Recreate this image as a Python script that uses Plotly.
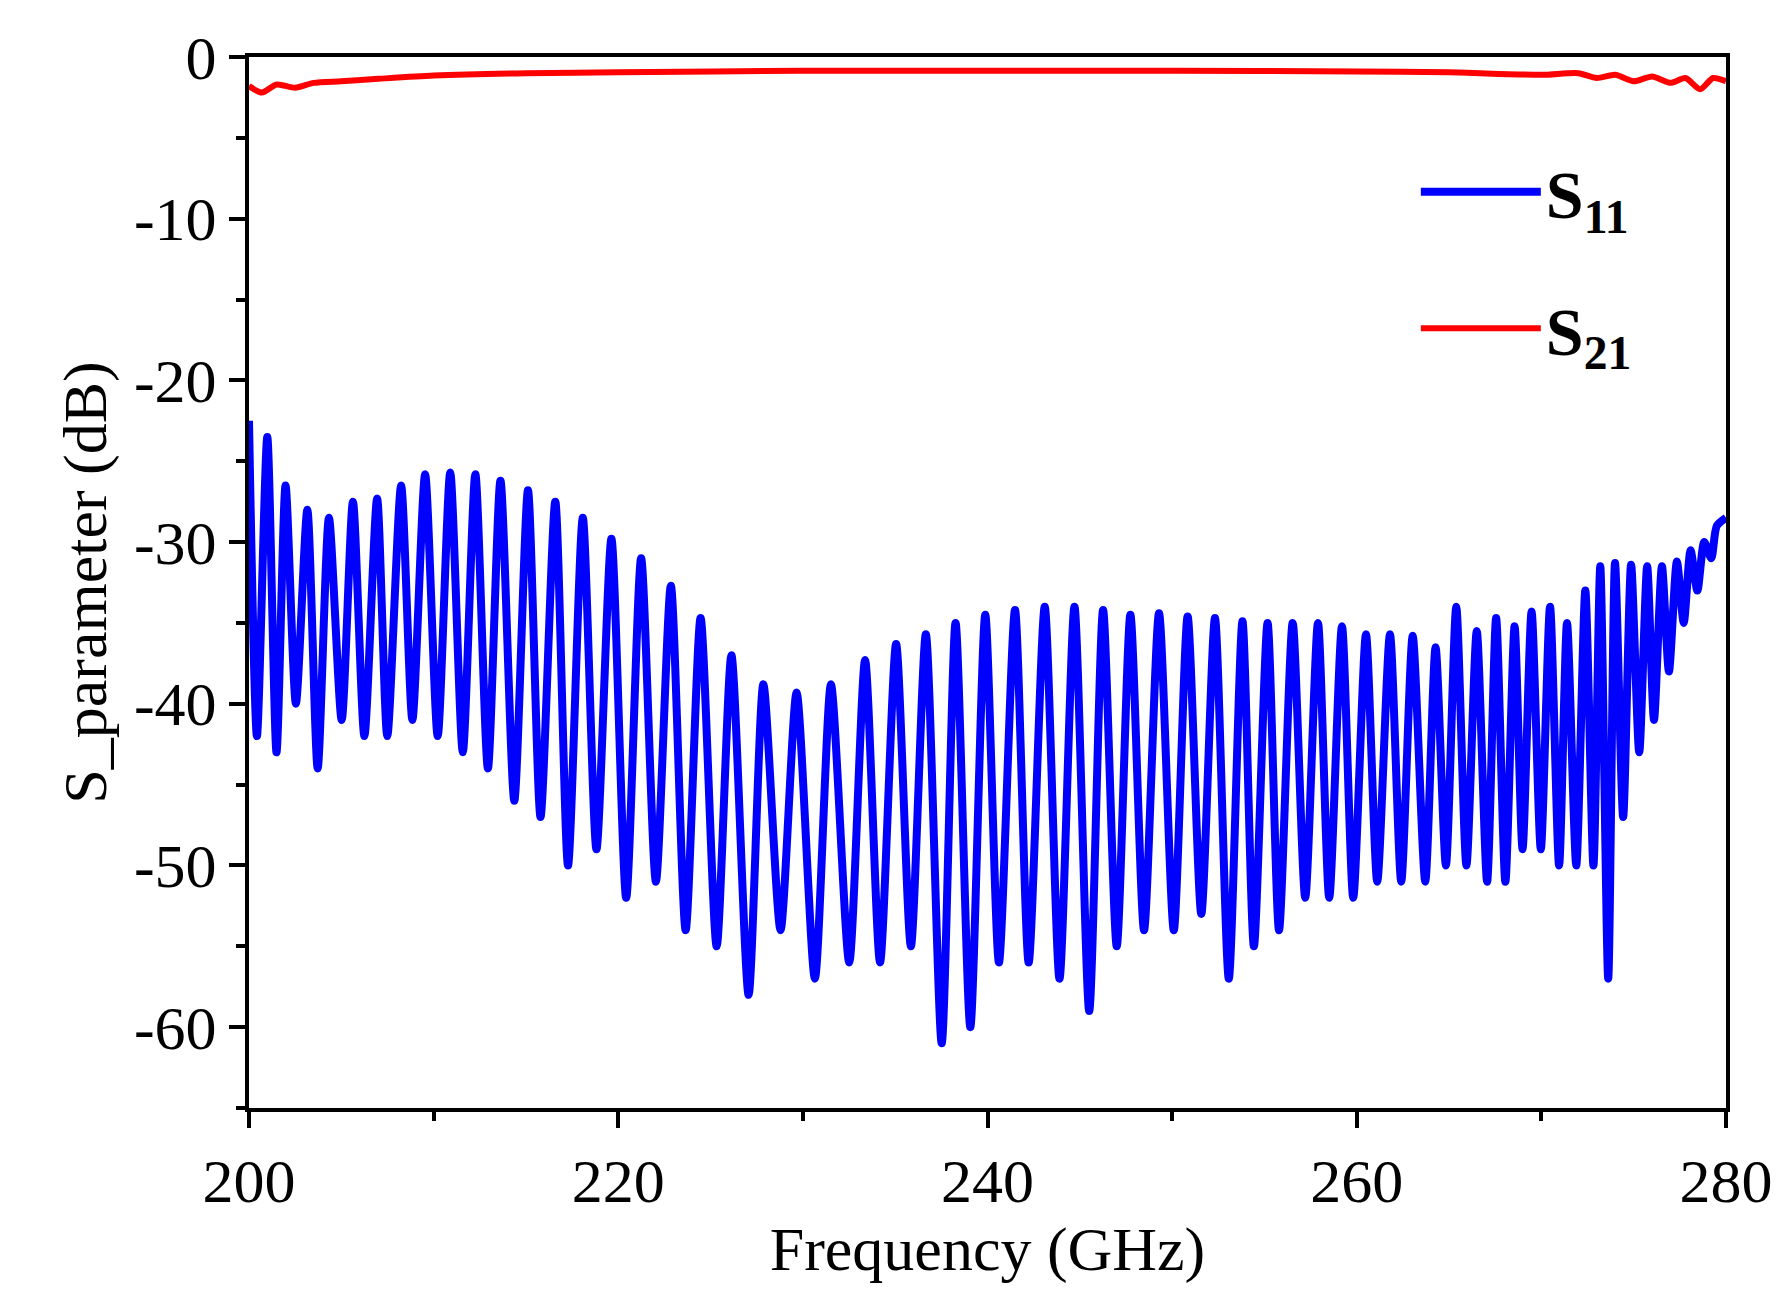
import plotly.graph_objects as go

# S11 local maxima (GHz, dB)
peak_f = [200.0, 200.99, 201.98, 203.16, 204.33, 205.63, 206.94, 208.24, 209.54, 210.90,
          212.26, 213.62, 215.11, 216.59, 218.08, 219.63, 221.24, 222.85, 224.46, 226.13,
          227.86, 229.66, 231.52, 233.37, 235.05, 236.66, 238.27, 239.88, 241.49, 243.10,
          244.71, 246.26, 247.74, 249.29, 250.84, 252.32, 253.81, 255.17, 256.53, 257.90,
          259.20, 260.50, 261.80, 263.03, 264.27, 265.39, 266.50, 267.55, 268.55, 269.47,
          270.47, 271.39, 272.38, 273.19, 273.99, 274.86, 275.73, 276.53, 277.34, 278.08,
          278.82, 279.50, 280.0]
peak_db = [-22.5, -23.5, -26.5, -28, -28.5, -27.5, -27.3, -26.5, -25.8, -25.7,
           -25.8, -26.2, -26.8, -27.5, -28.5, -29.8, -31, -32.7, -34.7, -37,
           -38.8, -39.3, -38.8, -37.3, -36.3, -35.7, -35, -34.5, -34.2, -34,
           -34, -34.2, -34.5, -34.4, -34.6, -34.7, -34.9, -35, -35, -35,
           -35.2, -35.7, -35.7, -35.8, -36.5, -34, -35.5, -34.7, -35.2, -34.3,
           -34, -35, -33, -31.5, -31.3, -31.4, -31.5, -31.5, -31.2, -30.5,
           -30, -29, -28.5]

# S11 nulls (GHz, dB)
null_f = [200.43, 201.49, 202.54, 203.72, 205.02, 206.25, 207.49, 208.85, 210.22, 211.58,
          212.94, 214.37, 215.79, 217.28, 218.82, 220.43, 222.04, 223.65, 225.33, 227.06,
          228.79, 230.65, 232.51, 234.18, 235.85, 237.52, 239.07, 240.62, 242.23, 243.90,
          245.51, 247.00, 248.48, 250.09, 251.58, 253.07, 254.43, 255.79, 257.21, 258.51,
          259.81, 261.11, 262.41, 263.71, 264.83, 265.94, 267.06, 268.05, 268.98, 269.97,
          270.96, 271.89, 272.82, 273.62, 274.43, 275.30, 276.10, 276.91, 277.71, 278.45,
          279.2]
null_db = [-42, -43, -40, -44, -41, -42, -42, -41, -42, -43,
           -44, -46, -47, -50, -49, -52, -51, -54, -55, -58,
           -54, -57, -56, -56, -55, -61, -60, -56, -56, -57,
           -59, -55, -54, -54, -53, -57, -55, -54, -52, -52,
           -52, -51, -51, -51, -50, -50, -51, -51, -49, -49,
           -50, -50, -50, -57, -47, -43, -41, -38, -35, -33,
           -31]

s21_f = [200, 200.7, 201.5, 202.5, 203.5, 205, 207, 210, 215, 220, 230, 240, 250, 260,
         265, 270, 272, 273, 274, 275, 276, 277, 277.8, 278.6, 279.3, 280]
s21_db = [-1.8, -2.2, -1.7, -1.9, -1.6, -1.5, -1.35, -1.15, -1.0, -0.95, -0.85, -0.85, -0.85, -0.9,
          -0.95, -1.1, -1.0, -1.3, -1.1, -1.5, -1.2, -1.6, -1.3, -2.0, -1.3, -1.5]

y_ticks = [0, -10, -20, -30, -40, -50, -60]
y_labels = ["0", "-10", "-20", "-30", "-40", "-50", "-60"]

s11 = sorted(zip(peak_f + null_f, peak_db + null_db))
s11_f = [p[0] for p in s11]
s11_db = [p[1] for p in s11]

font = "Liberation Serif, Times New Roman, serif"

fig = go.Figure()
fig.add_trace(go.Scatter(x=s11_f, y=s11_db, mode="lines", name="<b>S<sub>11</sub></b>",
                         legendgroup="a",
                         line=dict(color="#0000ff", width=8, shape="spline", smoothing=0.7)))
fig.add_trace(go.Scatter(x=s21_f, y=s21_db, mode="lines", name="<b>S<sub>21</sub></b>",
                         legendgroup="b",
                         line=dict(color="#ff0000", width=6, shape="spline", smoothing=0.7)))

axis = dict(showline=True, linecolor="black", linewidth=4, mirror=True, showgrid=False,
            zeroline=False, ticks="outside", ticklen=16, tickwidth=4, tickcolor="black",
            tickfont=dict(size=62, family=font, color="black"))
fig.update_xaxes(**axis, range=[200, 280], dtick=20,
                 minor=dict(dtick=10, ticks="outside", ticklen=9, tickwidth=4, tickcolor="black"),
                 title=dict(text="Frequency (GHz)", font=dict(size=62, family=font, color="black"),
                            standoff=6))
fig.update_yaxes(**axis, range=[-65, 0], tickvals=y_ticks, ticktext=y_labels,
                 minor=dict(dtick=5, ticks="outside", ticklen=9, tickwidth=4, tickcolor="black"),
                 title=dict(text="S_parameter (dB)", font=dict(size=62, family=font, color="black"),
                            standoff=8))

fig.update_layout(
    width=1790, height=1299,
    paper_bgcolor="white", plot_bgcolor="white",
    margin=dict(l=241, r=72, t=49, b=199),
    showlegend=True,
    legend=dict(x=0.79, y=0.92, xanchor="left", yanchor="top", bgcolor="rgba(0,0,0,0)",
                font=dict(size=68, family=font, color="black"), itemwidth=120,
                tracegroupgap=45),
)

fig.write_html("out.html")
